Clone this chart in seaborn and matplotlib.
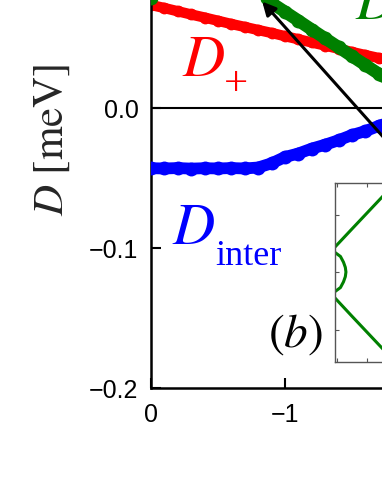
import numpy as np
import pandas as pd
import seaborn as sns
from matplotlib import pyplot as plt

# main panel data
x_vals = [0.0, -0.1, -0.2, -0.3, -0.4, -0.5, -0.6, -0.7, -0.8, -0.9,
          -1.0, -1.1, -1.2, -1.3, -1.4, -1.5, -1.6, -1.7, -1.8]
d_plus = [0.0736, 0.0714, 0.0691, 0.0668, 0.0646, 0.0623, 0.0600, 0.0579, 0.0557, 0.0536,
          0.0513, 0.0491, 0.0468, 0.0446, 0.0423, 0.0400, 0.0378, 0.0357, 0.0336]
d_minus = [0.0785, 0.0840, 0.0890, 0.0930, 0.0950, 0.0950, 0.0930, 0.0890, 0.0830, 0.0750,
           0.0687, 0.0624, 0.0560, 0.0497, 0.0434, 0.0370, 0.0307, 0.0244, 0.0181]
d_inter = [-0.0430, -0.0432, -0.0429, -0.0433, -0.0430, -0.0432, -0.0429, -0.0432, -0.0425, -0.0395,
           -0.0350, -0.0325, -0.0290, -0.0262, -0.0230, -0.0193, -0.0165, -0.0128, -0.0095]

# inset curves
inset_up_x = [-0.06, 0.5, 1.0, 1.5, 2.0, 2.5, 3.0]
inset_up_y = [0.435, 0.75, 1.03, 1.31, 1.60, 1.88, 2.16]
inset_lo_x = [-0.06, 0.5, 1.0, 1.5, 2.0, 2.5, 3.0]
inset_lo_y = [-0.452, -0.77, -1.05, -1.33, -1.62, -1.90, -2.18]
arc_x = [-0.06, 0.12, 0.22, 0.28, 0.30, 0.28, 0.22, 0.12, -0.06]
arc_y = [0.34, 0.27, 0.17, 0.08, 0.0, -0.08, -0.17, -0.27, -0.34]

x_ticks = [0, -1]
x_ticklabels = ["0", "\u22121"]
y_ticks = [-0.2, -0.1, 0.0]
y_ticklabels = ["\u22120.2", "\u22120.1", "0.0"]

sns.set_style("ticks")
plt.rcParams["font.family"] = ["Liberation Sans", "DejaVu Sans"]
plt.rcParams["mathtext.fontset"] = "stix"

fig = plt.figure(figsize=(3.82, 4.94), dpi=100)
ax = fig.add_axes([151 / 382, 106 / 494, 335 / 382, 420 / 494])

df = pd.DataFrame({"x": x_vals, "plus": d_plus, "minus": d_minus, "inter": d_inter})

ax.axhline(0, color="black", lw=1.5, zorder=1)
sns.lineplot(data=df, x="x", y="plus", ax=ax, color="red", lw=7.5, estimator=None,
             marker="o", markersize=8.5, markeredgewidth=0, zorder=2)
sns.lineplot(data=df, x="x", y="minus", ax=ax, color="#008000", lw=9, estimator=None,
             marker="o", markersize=10, markeredgewidth=0, zorder=3)
sns.lineplot(data=df, x="x", y="inter", ax=ax, color="blue", lw=8.5, estimator=None,
             marker="o", markersize=10, markeredgewidth=0, zorder=3)

ax.annotate("", xy=(-0.83, 0.076), xytext=(-1.86, -0.0343),
            arrowprops=dict(arrowstyle="-|>", color="black", lw=2.2,
                            mutation_scale=20, shrinkA=0, shrinkB=0),
            zorder=5)

ax.set_xlim(0, -2.5)
ax.set_ylim(-0.2, 0.1)
ax.set_xticks(x_ticks)
ax.set_xticklabels(x_ticklabels)
ax.set_yticks(y_ticks)
ax.set_yticklabels(y_ticklabels)
ax.tick_params(axis="both", direction="in", length=7, width=1.5,
               labelsize=18, colors="black")
ax.tick_params(axis="x", pad=11)
ax.tick_params(axis="y", pad=9)
for side in ["left", "bottom", "top", "right"]:
    ax.spines[side].set_linewidth(1.8)
    ax.spines[side].set_color("black")
ax.set_xlabel("")
ax.set_ylabel("")

serif = ["Liberation Serif", "DejaVu Serif"]
ax.text(-0.231, 0.0229, r"$D$", color="red", fontsize=42, ha="left", va="baseline")
ax.text(-0.634, 0.0164, "+", color="red", fontsize=31, family=serif,
        ha="center", va="center")
ax.text(-0.157, -0.0971, r"$D$", color="blue", fontsize=42, ha="left", va="baseline")
ax.text(-0.478, -0.1121, "inter", color="blue", fontsize=26, family=serif,
        ha="left", va="baseline")
ax.text(-0.873, -0.1707, r"$(b)$", color="black", fontsize=34,
        ha="left", va="baseline")
ax.text(-1.522, 0.0636, r"$D$", color="#008000", fontsize=42,
        ha="left", va="baseline")

fig.text(52 / 382, 1 - 140 / 494, r"$D\ [\mathrm{meV}]$", fontsize=31,
         rotation=90, ha="center", va="center")

# inset
ins = fig.add_axes([335 / 382, 132 / 494, 93 / 382, 179 / 494])
ins.set_facecolor("white")
sns.lineplot(x=inset_up_x, y=inset_up_y, ax=ins, color="#008000", lw=2.2,
             sort=False, estimator=None)
sns.lineplot(x=inset_lo_x, y=inset_lo_y, ax=ins, color="#008000", lw=2.2,
             sort=False, estimator=None)
sns.lineplot(x=arc_x, y=arc_y, ax=ins, color="#008000", lw=2.2,
             sort=False, estimator=None)
ins.set_xlim(-0.06, 3)
ins.set_ylim(-1.565, 1.548)
ins.set_xticks([0, 1, 2])
ins.set_yticks([-1, 0, 1])
ins.set_xticklabels([])
ins.set_yticklabels([])
ins.tick_params(direction="in", length=3, width=0.8, colors="#555555",
                top=True, right=True)
for side in ins.spines.values():
    side.set_linewidth(1.0)
    side.set_color("#555555")

fig.savefig("out.png", dpi=100)
